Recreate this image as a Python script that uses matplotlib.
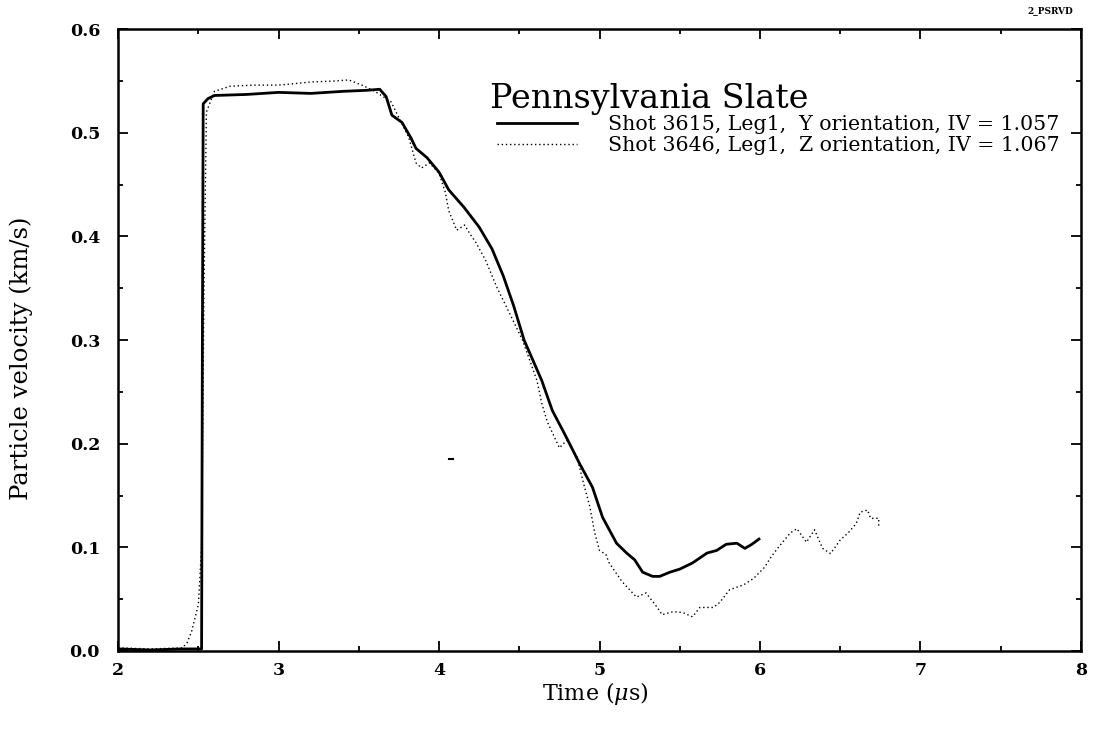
import numpy as np
import matplotlib.pyplot as plt
from matplotlib.ticker import MultipleLocator

# Shot 3615, Leg1, Y orientation (solid)
t_3615 = [2.00, 2.20, 2.40, 2.52, 2.525, 2.53, 2.56, 2.60, 2.80, 3.00, 3.20, 3.40,
          3.55, 3.63, 3.67, 3.706, 3.769, 3.825, 3.856, 3.925, 4.00, 4.06, 4.156,
          4.25, 4.33, 4.40, 4.465, 4.53, 4.64, 4.706, 4.794, 4.875, 4.956, 5.019,
          5.106, 5.169, 5.219, 5.269, 5.331, 5.375, 5.438, 5.50, 5.58, 5.67, 5.73,
          5.79, 5.856, 5.906, 5.95, 5.994]
v_3615 = [0.002, 0.001, 0.002, 0.002, 0.30, 0.528, 0.533, 0.536, 0.537, 0.539, 0.538, 0.540,
          0.541, 0.542, 0.535, 0.517, 0.510, 0.495, 0.485, 0.476, 0.462, 0.445, 0.428,
          0.409, 0.388, 0.362, 0.333, 0.300, 0.261, 0.232, 0.206, 0.181, 0.158, 0.129,
          0.104, 0.0945, 0.088, 0.076, 0.072, 0.072, 0.076, 0.079, 0.085, 0.0945, 0.097,
          0.103, 0.104, 0.099, 0.103, 0.108]

# Shot 3646, Leg1, Z orientation (dotted)
t_3646 = [2.00, 2.20, 2.40, 2.43, 2.46, 2.50, 2.52, 2.535, 2.55, 2.60, 2.70, 2.85,
          3.00, 3.20, 3.35, 3.4375, 3.52, 3.60, 3.70, 3.81, 3.856, 3.89, 3.94,
          4.00, 4.04, 4.06, 4.11, 4.16, 4.19, 4.23, 4.29, 4.36, 4.42, 4.52, 4.61,
          4.64, 4.675, 4.75, 4.80, 4.86, 4.90, 4.94, 4.97, 5.00, 5.04, 5.06, 5.14,
          5.23, 5.29, 5.36, 5.39, 5.46, 5.52, 5.58, 5.625, 5.71, 5.75, 5.81, 5.90,
          5.96, 6.03, 6.07, 6.125, 6.19, 6.23, 6.29, 6.34, 6.39, 6.44, 6.50, 6.55,
          6.60, 6.625, 6.67, 6.69, 6.74, 6.74]
v_3646 = [0.003, 0.002, 0.003, 0.008, 0.020, 0.045, 0.10, 0.35, 0.52, 0.540, 0.545, 0.546,
          0.546, 0.549, 0.550, 0.551, 0.546, 0.540, 0.530, 0.496, 0.471, 0.466, 0.471,
          0.461, 0.442, 0.425, 0.406, 0.411, 0.403, 0.394, 0.377, 0.351, 0.332, 0.300, 0.261,
          0.239, 0.221, 0.196, 0.204, 0.187, 0.162, 0.139, 0.114, 0.097, 0.093, 0.085, 0.067,
          0.052, 0.056, 0.042, 0.035, 0.038, 0.037, 0.033, 0.042, 0.042, 0.047, 0.059, 0.064,
          0.070, 0.081, 0.091, 0.102, 0.114, 0.118, 0.105, 0.117, 0.099, 0.094, 0.107, 0.114,
          0.123, 0.134, 0.136, 0.128, 0.128, 0.119]

# stray sample near 4.07 us
t_stray = [4.065, 4.085]
v_stray = [0.185, 0.185]

label_3615 = "Shot 3615, Leg1,  Y orientation, IV = 1.057"
label_3646 = "Shot 3646, Leg1,  Z orientation, IV = 1.067"

plt.rcParams['font.family'] = ['DejaVu Serif']
plt.rcParams['mathtext.fontset'] = 'dejavuserif'

fig = plt.figure(figsize=(10.94, 7.29), dpi=100)
ax = fig.add_axes([0.108, 0.107, 0.880, 0.853])

ax.plot(t_3615, v_3615, color='black', lw=2.0, label=label_3615)
ax.plot(t_3646, v_3646, color='black', lw=1.0, linestyle=(0, (1, 2)), label=label_3646)
ax.plot(t_stray, v_stray, color='black', lw=1.5)

ax.set_xlim(2, 8)
ax.set_ylim(0, 0.6)
ax.xaxis.set_major_locator(MultipleLocator(1))
ax.xaxis.set_minor_locator(MultipleLocator(0.5))
ax.yaxis.set_major_locator(MultipleLocator(0.1))
ax.yaxis.set_minor_locator(MultipleLocator(0.05))
ax.yaxis.set_major_formatter(plt.FuncFormatter(lambda v, p: f"{v:.1f}"))
ax.tick_params(which='both', direction='in', top=True, right=True, width=1.3)
ax.tick_params(which='major', length=7)
ax.tick_params(which='minor', length=3.5)
ax.tick_params(axis='x', pad=8)
ax.tick_params(axis='y', pad=13)
for lab in ax.get_xticklabels() + ax.get_yticklabels():
    lab.set_fontsize(12.5)
    lab.set_fontweight('bold')
for sp in ax.spines.values():
    sp.set_linewidth(1.8)

ax.set_xlabel(r"Time ($\mu$s)", fontsize=16)
ax.set_ylabel("Particle velocity (km/s)", fontsize=17.5)
ax.xaxis.set_label_coords(0.496, -0.047)
ax.yaxis.set_label_coords(-0.088, 0.471)

ax.text(0.386, 0.873, "Pennsylvania Slate", transform=ax.transAxes, fontsize=24,
        va='baseline')
ax.legend(loc='upper left', bbox_to_anchor=(0.394, 0.862), frameon=False,
          fontsize=14.8, handlelength=3.85, handletextpad=1.55, labelspacing=0.1,
          borderaxespad=0, borderpad=0)

fig.text(0.96, 0.985, "2_PSRVD", fontsize=6.5, fontweight='bold', ha='center', va='center')

fig.savefig("out.png", dpi=100)
